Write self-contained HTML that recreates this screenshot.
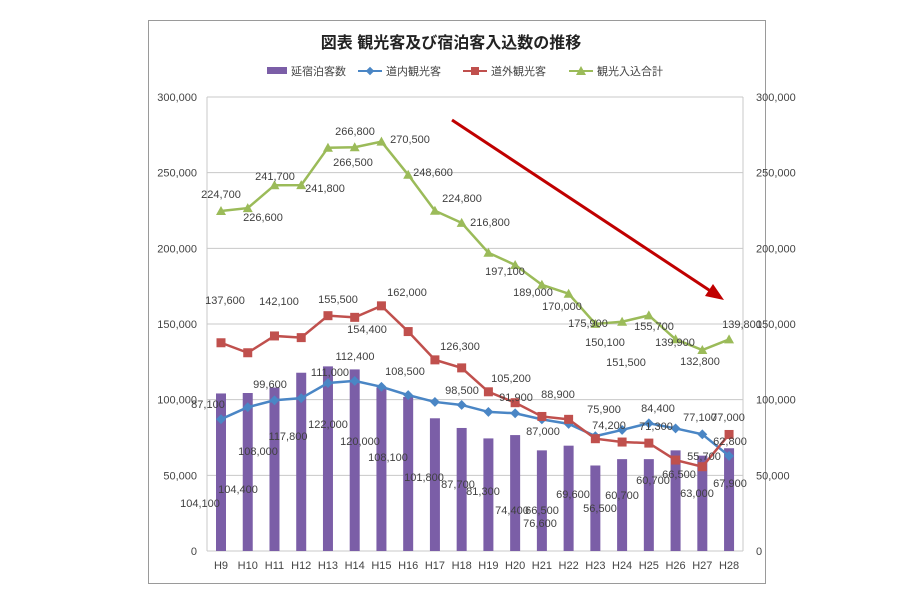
<!DOCTYPE html>
<html><head><meta charset="utf-8"><style>
html,body{margin:0;padding:0;background:#fff;width:900px;height:600px;overflow:hidden}
svg text{font-family:"Liberation Sans","Noto Sans CJK JP",sans-serif}
</style></head><body>
<svg id="s" width="900" height="600" xmlns="http://www.w3.org/2000/svg">
<rect x="148.5" y="20.5" width="617" height="563" fill="#fff" stroke="#9a9a9a" stroke-width="1"/>
<text x="451" y="48" font-size="16" font-weight="bold" text-anchor="middle" fill="#222">図表 観光客及び宿泊客入込数の推移</text>
<g font-size="11" fill="#444">
<rect x="267" y="67" width="20" height="7" fill="#7b5ea7"/><text x="291" y="75">延宿泊客数</text>
<line x1="358" y1="71" x2="382" y2="71" stroke="#4a86c5" stroke-width="2"/><rect x="367" y="68" width="6" height="6" fill="#4a86c5" transform="rotate(45 370 71)"/><text x="386" y="75">道内観光客</text>
<line x1="463" y1="71" x2="487" y2="71" stroke="#c0504d" stroke-width="2"/><rect x="471" y="67" width="8" height="8" fill="#c0504d"/><text x="491" y="75">道外観光客</text>
<line x1="569" y1="71" x2="593" y2="71" stroke="#9bbb59" stroke-width="2"/><polygon points="581,66 586,75 576,75" fill="#9bbb59"/><text x="597" y="75">観光入込合計</text>
</g>
<g id="g"></g>
</svg>
<script>
var s=document.getElementById('g'),h='';
function Y(v){return 551-v*454/300000}
function X(i){return 221+i*26.74}
for(var k=0;k<=6;k++){var y=Y(k*50000);h+='<line x1="207" x2="743" y1="'+y+'" y2="'+y+'" stroke="#c8c8c8"/>';
var t=k==0?'0':(k*50).toLocaleString('en')+',000';
h+='<text x="197" y="'+(y+4)+'" font-size="11" text-anchor="end" fill="#444">'+t+'</text>';
h+='<text x="756" y="'+(y+4)+'" font-size="11" fill="#444">'+t+'</text>';}
h+='<line x1="207" x2="207" y1="97" y2="551" stroke="#c8c8c8"/><line x1="743" x2="743" y1="97" y2="551" stroke="#c8c8c8"/>';
var bars=[104100,104400,108000,117800,122000,120000,108100,101800,87700,81300,74400,76600,66500,69600,56500,60700,60700,66500,63000,67900];
var blue=[87100,95000,99600,101000,111000,112400,108500,103000,98500,96500,91900,91000,87000,84000,75900,80000,84400,81000,77100,62800];
var red=[137600,131000,142100,141000,155500,154400,162000,145000,126300,121000,105200,98000,88900,87000,74200,72000,71300,60100,55700,77000];
var grn=[224700,226600,241700,241800,266500,266800,270500,248600,224800,216800,197100,189000,175900,170000,150100,151500,155700,139900,132800,139800];
for(var i=0;i<20;i++){h+='<rect x="'+(X(i)-5)+'" y="'+Y(bars[i])+'" width="10" height="'+(551-Y(bars[i]))+'" fill="#7b5ea7"/>';
h+='<text x="'+X(i)+'" y="569" font-size="11" text-anchor="middle" fill="#444">H'+(i+9)+'</text>';}
function line(d,c){var p=d.map(function(v,i){return X(i)+','+Y(v)}).join(' ');h+='<polyline points="'+p+'" fill="none" stroke="'+c+'" stroke-width="2.5"/>';}
line(blue,'#4a86c5');line(red,'#c0504d');line(grn,'#9bbb59');
for(var i=0;i<20;i++){var x=X(i),y;
y=Y(blue[i]);h+='<rect x="'+(x-3.5)+'" y="'+(y-3.5)+'" width="7" height="7" fill="#4a86c5" transform="rotate(45 '+x+' '+y+')"/>';
y=Y(red[i]);h+='<rect x="'+(x-4.5)+'" y="'+(y-4.5)+'" width="9" height="9" fill="#c0504d"/>';
y=Y(grn[i]);h+='<polygon points="'+x+','+(y-5)+' '+(x+5)+','+(y+4)+' '+(x-5)+','+(y+4)+'" fill="#9bbb59"/>';}
var L=[['224,700',221,194],['226,600',263,217],['241,700',275,176],['241,800',325,188],['266,800',355,131],['266,500',353,162],['270,500',410,139],['248,600',433,172],['224,800',462,198],['216,800',490,222],['197,100',505,271],['189,000',533,292],['170,000',562,306],['175,900',588,323],['150,100',605,342],['151,500',626,362],['155,700',654,326],['139,900',675,342],['132,800',700,361],['139,800',742,324],
['137,600',225,300],['142,100',279,301],['155,500',338,299],['154,400',367,329],['162,000',407,292],['126,300',460,346],['105,200',511,378],['88,900',558,394],['74,200',609,425],['71,300',656,426],['77,000',728,417],['55,700',704,456],
['87,100',208,404],['99,600',270,384],['111,000',330,372],['112,400',355,356],['108,500',405,371],['98,500',462,390],['91,900',516,397],['87,000',543,431],['75,900',604,409],['84,400',658,408],['77,100',700,417],['62,800',730,441],
['104,100',200,503],['104,400',238,489],['108,000',258,451],['117,800',288,436],['122,000',328,424],['120,000',360,441],['108,100',388,457],['101,800',424,477],['87,700',458,484],['81,300',483,491],['74,400',512,510],['76,600',540,523],['66,500',542,510],['69,600',573,494],['56,500',600,508],['60,700',622,495],['60,700',653,480],['66,500',679,474],['63,000',697,493],['67,900',730,483]];
L.forEach(function(l){h+='<text x="'+l[1]+'" y="'+(l[2]+4)+'" font-size="11" text-anchor="middle" fill="#404040">'+l[0]+'</text>';});
h+='<line x1="452" y1="120" x2="712" y2="292" stroke="#c00000" stroke-width="3"/><polygon points="724,300 705,296 713,284" fill="#c00000"/>';
s.innerHTML=h;
</script>
</body></html>
